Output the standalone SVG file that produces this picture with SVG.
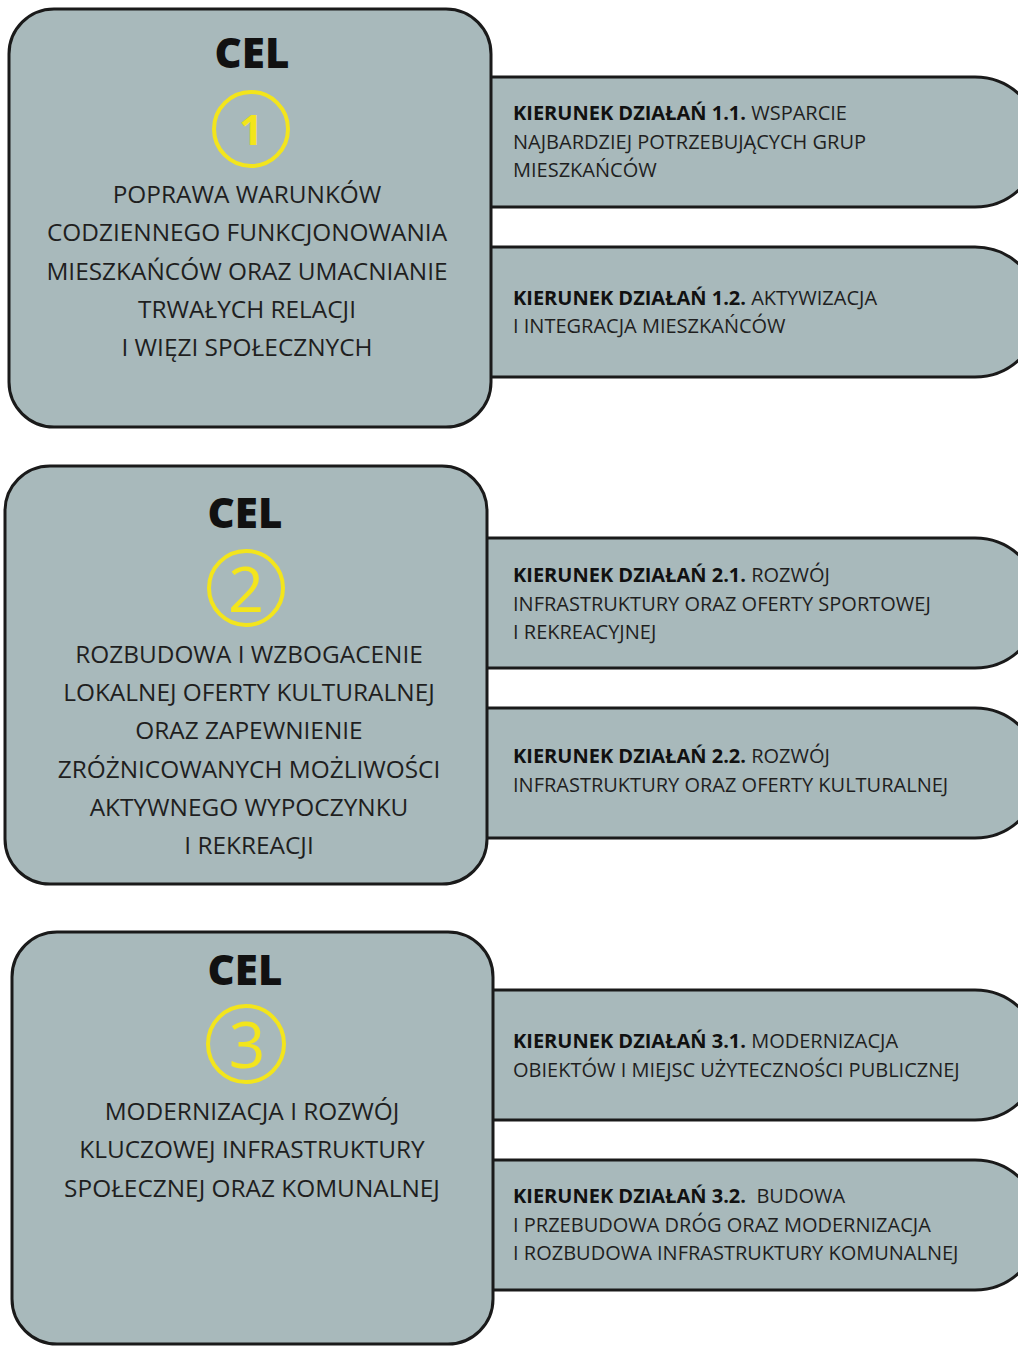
<svg xmlns="http://www.w3.org/2000/svg" width="1018" height="1346" viewBox="0 0 1018 1346">
<style>
.bg{fill:#ffffff}
.box{fill:#a8b9bb;stroke:#1a1a1a;stroke-width:3}
.cel{font-family:"Open Sans","Noto Sans",sans-serif;font-weight:800;font-size:42px;fill:#111;text-anchor:middle}
.ring{fill:none;stroke:#f3e51c;stroke-width:4}
.num{font-family:"Open Sans","Noto Sans",sans-serif;fill:#f3e51c;text-anchor:middle}
.goal{font-family:"Open Sans","Noto Sans",sans-serif;font-size:24.4px;fill:#1f1f1f;text-anchor:middle}
.dir{font-family:"Open Sans","Noto Sans",sans-serif;font-size:20px;fill:#1f1f1f}
.dir .b{font-weight:700;fill:#111}
</style>
<rect class="bg" x="0" y="0" width="1018" height="1346"/>
<g id="connectors"/>

<g id="k11"><path class="box" d="M470 77 H975 A65 65 0 0 1 1040 142 A65 65 0 0 1 975 207 H470 Z"/>
<text class="dir" x="513" y="120"><tspan class="b">KIERUNEK DZIAŁAŃ 1.1.</tspan> WSPARCIE</text>
<text class="dir" x="513" y="148.5">NAJBARDZIEJ POTRZEBUJĄCYCH GRUP</text>
<text class="dir" x="513" y="177">MIESZKAŃCÓW</text></g>
<g id="k12"><path class="box" d="M470 247 H975 A65 65 0 0 1 1040 312 A65 65 0 0 1 975 377 H470 Z"/>
<text class="dir" x="513" y="305"><tspan class="b">KIERUNEK DZIAŁAŃ 1.2.</tspan> AKTYWIZACJA</text>
<text class="dir" x="513" y="333">I INTEGRACJA MIESZKAŃCÓW</text></g>

<g id="k21"><path class="box" d="M470 538 H975 A65 65 0 0 1 1040 603 A65 65 0 0 1 975 668 H470 Z"/>
<text class="dir" x="513" y="582"><tspan class="b">KIERUNEK DZIAŁAŃ 2.1.</tspan> ROZWÓJ</text>
<text class="dir" x="513" y="611">INFRASTRUKTURY ORAZ OFERTY SPORTOWEJ</text>
<text class="dir" x="513" y="639">I REKREACYJNEJ</text></g>
<g id="k22"><path class="box" d="M470 708 H975 A65 65 0 0 1 1040 773 A65 65 0 0 1 975 838 H470 Z"/>
<text class="dir" x="513" y="763"><tspan class="b">KIERUNEK DZIAŁAŃ 2.2.</tspan> ROZWÓJ</text>
<text class="dir" x="513" y="792">INFRASTRUKTURY ORAZ OFERTY KULTURALNEJ</text></g>

<g id="k31"><path class="box" d="M470 990 H975 A65 65 0 0 1 1040 1055 A65 65 0 0 1 975 1120 H470 Z"/>
<text class="dir" x="513" y="1048"><tspan class="b">KIERUNEK DZIAŁAŃ 3.1.</tspan> MODERNIZACJA</text>
<text class="dir" x="513" y="1077">OBIEKTÓW I MIEJSC UŻYTECZNOŚCI PUBLICZNEJ</text></g>
<g id="k32"><path class="box" d="M470 1160 H975 A65 65 0 0 1 1040 1225 A65 65 0 0 1 975 1290 H470 Z"/>
<text class="dir" x="513" y="1203"><tspan class="b">KIERUNEK DZIAŁAŃ 3.2.</tspan>&#160; BUDOWA</text>
<text class="dir" x="513" y="1232">I PRZEBUDOWA DRÓG ORAZ MODERNIZACJA</text>
<text class="dir" x="513" y="1260">I ROZBUDOWA INFRASTRUKTURY KOMUNALNEJ</text></g>

<g id="cel1">
<rect class="box" x="9" y="9" width="482" height="418" rx="45"/>
<text class="cel" x="252" y="68">CEL</text>
<circle class="ring" cx="251" cy="129" r="37"/>
<text class="num" x="251" y="145" font-size="42" font-weight="700">1</text>
<text class="goal" x="247" y="203">POPRAWA WARUNKÓW</text>
<text class="goal" x="247" y="241">CODZIENNEGO FUNKCJONOWANIA</text>
<text class="goal" x="247" y="279.5">MIESZKAŃCÓW ORAZ UMACNIANIE</text>
<text class="goal" x="247" y="318">TRWAŁYCH RELACJI</text>
<text class="goal" x="247" y="356">I WIĘZI SPOŁECZNYCH</text>
</g>

<g id="cel2">
<rect class="box" x="5" y="466" width="482" height="418" rx="45"/>
<text class="cel" x="245" y="528">CEL</text>
<circle class="ring" cx="246" cy="588" r="37"/>
<text class="num" x="246" y="612" font-size="63" font-weight="400">2</text>
<text class="goal" x="249" y="663">ROZBUDOWA I WZBOGACENIE</text>
<text class="goal" x="249" y="701">LOKALNEJ OFERTY KULTURALNEJ</text>
<text class="goal" x="249" y="739">ORAZ ZAPEWNIENIE</text>
<text class="goal" x="249" y="778">ZRÓŻNICOWANYCH MOŻLIWOŚCI</text>
<text class="goal" x="249" y="816">AKTYWNEGO WYPOCZYNKU</text>
<text class="goal" x="249" y="854">I REKREACJI</text>
</g>

<g id="cel3">
<rect class="box" x="12" y="932" width="481" height="412" rx="45"/>
<text class="cel" x="245" y="985">CEL</text>
<circle class="ring" cx="246" cy="1044" r="38"/>
<text class="num" x="247" y="1068" font-size="64" font-weight="400">3</text>
<text class="goal" x="252" y="1120">MODERNIZACJA I ROZWÓJ</text>
<text class="goal" x="252" y="1158">KLUCZOWEJ INFRASTRUKTURY</text>
<text class="goal" x="252" y="1197">SPOŁECZNEJ ORAZ KOMUNALNEJ</text>
</g>
</svg>
